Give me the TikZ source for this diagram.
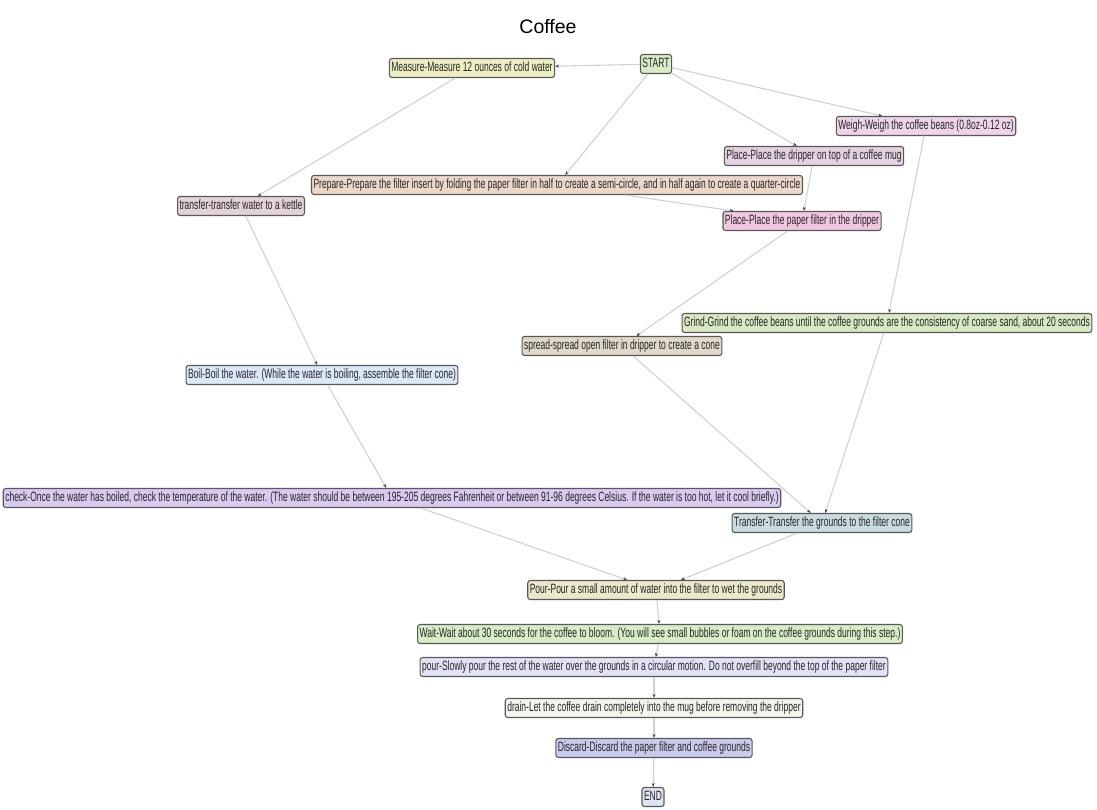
\documentclass[tikz,border=0pt]{standalone}
\usepackage{fontspec}
\setmainfont{Liberation Sans}
\newfontfamily\narrowfont[FakeStretch=0.63]{Liberation Sans}
\usepackage{tikz}
\usetikzlibrary{arrows.meta,positioning,calc}

\begin{document}
\begin{tikzpicture}[
      x=1pt,y=-1pt,
      box/.style = {rectangle,rounded corners=2.5pt,draw=black!65,line width=1.1pt,text centered,
                    font=\narrowfont\fontsize{13.5}{14}\selectfont,text=black!85,
                    inner xsep=2pt,inner ysep=3pt,text height=10pt,text depth=3pt},
      arrow/.style = {draw=black!18,line width=1.1pt,-{Stealth[length=4pt,width=3pt,color=black!75]}}
      ]
      \useasboundingbox (0,0) rectangle (1097,810);
      \node (title) at (548,27) {\fontsize{19.5}{20}\selectfont Coffee};

      \node (start)[box,fill={rgb,255:red,216;green,236;blue,200}] at (656,64) {START};
      \node (measure)[box,fill={rgb,255:red,238;green,238;blue,196}] at (472,68) {Measure-Measure 12 ounces of cold water};
      \node (weigh)[box,fill={rgb,255:red,238;green,212;blue,232}] at (926,126) {Weigh-Weigh the coffee beans (0.8oz-0.12 oz)};
      \node (placedripper)[box,fill={rgb,255:red,228;green,210;blue,226}] at (814,156) {Place-Place the dripper on top of a coffee mug};
      \node (prepare)[box,fill={rgb,255:red,236;green,216;blue,200}] at (557,185) {Prepare-Prepare the filter insert by folding the paper filter in half to create a semi-circle, and in half again to create a quarter-circle};
      \node (transferwater)[box,fill={rgb,255:red,226;green,210;blue,218}] at (241,206) {transfer-transfer water to a kettle};
      \node (placefilter)[box,fill={rgb,255:red,240;green,200;blue,224}] at (802,221) {Place-Place the paper filter in the dripper};
      \node (grind)[box,fill={rgb,255:red,216;green,232;blue,194}] at (887,323) {Grind-Grind the coffee beans until the coffee grounds are the consistency of coarse sand, about 20 seconds};
      \node (spread)[box,fill={rgb,255:red,224;green,216;blue,200}] at (622,346) {spread-spread open filter in dripper to create a cone};
      \node (boil)[box,fill={rgb,255:red,218;green,232;blue,248}] at (322,375) {Boil-Boil the water. (While the water is boiling, assemble the filter cone)};
      \node (check)[box,fill={rgb,255:red,218;green,202;blue,240}] at (392,498) {check-Once the water has boiled, check the temperature of the water. (The water should be between 195-205 degrees Fahrenheit or between 91-96 degrees Celsius. If the water is too hot, let it cool briefly.)};
      \node (transfergrounds)[box,fill={rgb,255:red,200;green,220;blue,226}] at (822,523) {Transfer-Transfer the grounds to the filter cone};
      \node (pourwet)[box,fill={rgb,255:red,236;green,232;blue,202}] at (656,590) {Pour-Pour a small amount of water into the filter to wet the grounds};
      \node (wait)[box,fill={rgb,255:red,216;green,236;blue,200}] at (660,634) {Wait-Wait about 30 seconds for the coffee to bloom. (You will see small bubbles or foam on the coffee grounds during this step.)};
      \node (pourrest)[box,fill={rgb,255:red,226;green,226;blue,246}] at (654,667) {pour-Slowly pour the rest of the water over the grounds in a circular motion. Do not overfill beyond the top of the paper filter};
      \node (drain)[box,fill={rgb,255:red,244;green,244;blue,236}] at (654,708) {drain-Let the coffee drain completely into the mug before removing the dripper};
      \node (discard)[box,fill={rgb,255:red,202;green,202;blue,236}] at (654,748) {Discard-Discard the paper filter and coffee grounds};
      \node (end)[box,fill={rgb,255:red,222;green,228;blue,242}] at (653,797) {END};

      \path (start) edge[arrow] (measure);
      \path (start) edge[arrow] (prepare);
      \path (start) edge[arrow] (placedripper);
      \path (start) edge[arrow] (weigh);
      \path (measure) edge[arrow] (transferwater);
      \path (placedripper) edge[arrow] (placefilter);
      \path (prepare) edge[arrow] (placefilter);
      \path (placefilter) edge[arrow] (spread);
      \path (weigh) edge[arrow] (grind);
      \path (transferwater) edge[arrow] (boil);
      \path (boil) edge[arrow] (check);
      \path (spread) edge[arrow] (transfergrounds);
      \path (grind) edge[arrow] (transfergrounds);
      \path (check) edge[arrow] (pourwet);
      \path (transfergrounds) edge[arrow] (pourwet);
      \path (pourwet) edge[arrow] (wait);
      \path (wait) edge[arrow] (pourrest);
      \path (pourrest) edge[arrow] (drain);
      \path (drain) edge[arrow] (discard);
      \path (discard) edge[arrow] (end);
    \end{tikzpicture}
\end{document}
